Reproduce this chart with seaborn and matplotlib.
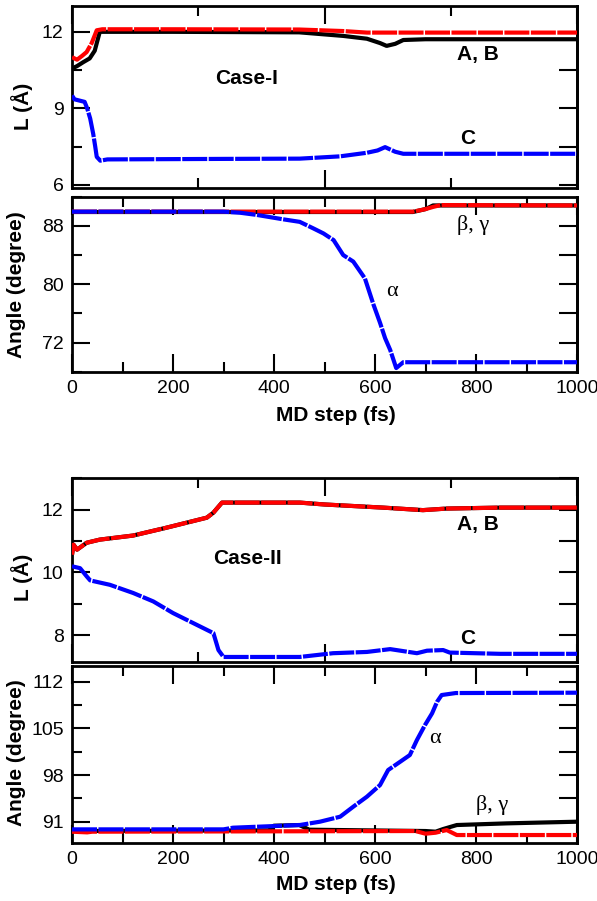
import numpy as np
import pandas as pd
import matplotlib
matplotlib.use("Agg")
import matplotlib.pyplot as plt
import seaborn as sns
from matplotlib.ticker import MultipleLocator, NullFormatter

# ---------------- data ----------------
# Case-I, lattice lengths
c1_red_x = [0, 10, 20, 29, 39, 49, 60, 200, 450, 537, 584, 700, 1000]
c1_red_y = [11.0, 10.9, 11.05, 11.2, 11.55, 12.05, 12.09, 12.09, 12.08, 12.02, 11.96, 11.96, 11.96]
c1_blk_x = [0, 10, 22, 35, 45, 55, 200, 450, 537, 584, 610, 623, 640, 656, 700, 1000]
c1_blk_y = [10.55, 10.65, 10.8, 10.95, 11.25, 11.99, 11.99, 11.97, 11.83, 11.72, 11.55, 11.44, 11.52, 11.67, 11.7, 11.7]
c1_blu_x = [0, 5, 25, 30, 36, 42, 46, 49, 56, 70, 300, 451, 531, 584, 605, 620, 640, 656, 1000]
c1_blu_y = [9.5, 9.35, 9.25, 9.0, 8.6, 8.0, 7.5, 7.1, 6.95, 7.0, 7.02, 7.03, 7.12, 7.26, 7.35, 7.48, 7.3, 7.22, 7.22]

# Case-I, angles
a1_blk_x = [0, 675, 700, 715, 1000]
a1_blk_y = [89.9, 89.9, 90.3, 90.8, 90.8]
a1_red_x = [0, 675, 690, 700, 715, 730, 1000]
a1_red_y = [89.95, 89.95, 90.15, 90.3, 90.6, 90.85, 90.8]
a1_blu_x = [0, 300, 333, 366, 418, 451, 478, 498, 518, 537, 557, 580, 597, 610, 620, 630, 642, 656, 1000]
a1_blu_y = [89.95, 89.95, 89.8, 89.5, 88.9, 88.55, 87.65, 86.96, 86.05, 84.0, 83.1, 80.8, 77.2, 74.7, 72.6, 71.0, 68.5, 69.3, 69.3]

# Case-II, lattice lengths
c2_blk_x = [0, 3, 10, 29, 55, 121, 187, 227, 267, 280, 297, 451, 500, 616, 695, 742, 848, 1000]
c2_blk_y = [10.56, 10.88, 10.72, 10.94, 11.04, 11.17, 11.42, 11.58, 11.74, 11.9, 12.22, 12.22, 12.16, 12.06, 11.98, 12.03, 12.06, 12.06]
c2_red_x = [0, 3, 10, 29, 55, 121, 187, 227, 267, 280, 297, 451, 500, 616, 695, 742, 848, 1000]
c2_red_y = [10.56, 10.88, 10.72, 10.94, 11.04, 11.17, 11.42, 11.58, 11.74, 11.9, 12.22, 12.22, 12.16, 12.06, 11.98, 12.03, 12.06, 12.06]
c2_blu_x = [0, 16, 29, 36, 75, 121, 161, 200, 240, 280, 290, 300, 451, 517, 584, 630, 683, 703, 735, 748, 848, 1000]
c2_blu_y = [10.19, 10.13, 9.87, 9.74, 9.6, 9.34, 9.07, 8.7, 8.38, 8.06, 7.52, 7.3, 7.3, 7.42, 7.46, 7.55, 7.42, 7.5, 7.52, 7.44, 7.4, 7.4]

# Case-II, angles
a2_blk_x = [0, 390, 400, 450, 470, 700, 720, 735, 762, 861, 1000]
a2_blk_y = [89.6, 89.7, 90.4, 90.5, 89.8, 89.6, 89.5, 89.9, 90.5, 90.75, 91.0]
a2_red_x = [0, 30, 40, 680, 700, 720, 742, 762, 1000]
a2_red_y = [89.5, 89.4, 89.5, 89.6, 89.2, 89.35, 89.75, 89.0, 89.0]
a2_blu_x = [0, 300, 319, 451, 491, 531, 557, 584, 610, 626, 650, 669, 683, 699, 713, 723, 732, 760, 1000]
a2_blu_y = [89.85, 89.85, 90.1, 90.5, 91.0, 91.75, 93.25, 94.75, 96.5, 98.75, 100.0, 101.0, 103.25, 105.5, 107.25, 109.0, 110.0, 110.3, 110.35]

# ---------------- style ----------------
sns.set_style("ticks")
plt.rcParams['font.family'] = ['Liberation Sans', 'DejaVu Sans']
plt.rcParams['axes.linewidth'] = 2.0
for k in ['text.color', 'axes.labelcolor', 'xtick.color', 'ytick.color', 'axes.edgecolor']:
    plt.rcParams[k] = 'black'

fig = plt.figure(figsize=(5.97, 9.01), dpi=100)
L, W = 72 / 597, 505 / 597

def frac(top, bottom):
    return [L, 1 - bottom / 901, W, (bottom - top) / 901]

ax1 = fig.add_axes(frac(6, 188.3))
ax2 = fig.add_axes(frac(196.7, 371.7))
ax3 = fig.add_axes(frac(477.5, 662.3))
ax4 = fig.add_axes(frac(665.7, 842.7))

RED, BLUE, BLACK = "#ff0000", "#0000ff", "#000000"
DASH = (0, (6, 0.35))

def draw(ax, series):
    for x, y, color, ls, z in series:
        df = pd.DataFrame({"step": x, "val": y})
        sns.lineplot(data=df, x="step", y="val", ax=ax, color=color, lw=3,
                     estimator=None, sort=False, linestyle=ls, zorder=z,
                     solid_capstyle="butt", dash_capstyle="butt")

draw(ax1, [(c1_blk_x, c1_blk_y, BLACK, "-", 2), (c1_red_x, c1_red_y, RED, DASH, 3),
           (c1_blu_x, c1_blu_y, BLUE, DASH, 3)])
draw(ax2, [(a1_blk_x, a1_blk_y, BLACK, "-", 2), (a1_red_x, a1_red_y, RED, DASH, 3),
           (a1_blu_x, a1_blu_y, BLUE, DASH, 4)])
draw(ax3, [(c2_blk_x, c2_blk_y, BLACK, "-", 2), (c2_red_x, c2_red_y, RED, DASH, 3),
           (c2_blu_x, c2_blu_y, BLUE, DASH, 3)])
draw(ax4, [(a2_blk_x, a2_blk_y, BLACK, "-", 2), (a2_red_x, a2_red_y, RED, DASH, 3),
           (a2_blu_x, a2_blu_y, BLUE, DASH, 4)])

cfg = [
    (ax1, (5.87, 13.0), 3, 1.5, 500, 250, False),
    (ax2, (68.0, 92.0), 8, 4, 200, 100, True),
    (ax3, (7.13, 13.02), 2, 1, 500, 250, False),
    (ax4, (87.85, 114.4), 7, 3.5, 200, 100, True),
]
for ax, ylim, ymaj, ymin, xmaj, xmin, xlab in cfg:
    ax.set_xlim(0, 1000)
    ax.set_ylim(*ylim)
    ax.xaxis.set_major_locator(MultipleLocator(xmaj))
    ax.xaxis.set_minor_locator(MultipleLocator(xmin))
    ax.yaxis.set_major_locator(MultipleLocator(ymaj))
    ax.yaxis.set_minor_locator(MultipleLocator(ymin))
    ax.tick_params(which="both", direction="in", top=True, bottom=True, left=True,
                   right=False, width=1.5, labelsize=14, color="black", labelcolor="black")
    ax.tick_params(which="major", length=13, pad=6)
    ax.tick_params(which="minor", length=7)
    if not xlab:
        ax.xaxis.set_major_formatter(NullFormatter())
    for s in ax.spines.values():
        s.set_visible(True)
        s.set_linewidth(2.0)
        s.set_color("black")
    lo, hi = ylim
    rt = [v for v in np.arange(0, 200, ymin) if lo < v < hi]
    sec = ax.secondary_yaxis("right")
    sec.set_yticks(rt)
    sec.tick_params(direction="in", length=13, width=1.5, labelright=False)
    sec.spines["right"].set_linewidth(2.0)
    ax.set_xlabel("")
    ax.set_ylabel("")

ax2.set_xticks([0, 200, 400, 600, 800, 1000])
ax4.set_xticks([0, 200, 400, 600, 800, 1000])

lab = dict(fontsize=15, fontweight="bold", color="black")
ax1.set_ylabel("L (Å)", **lab)
ax1.yaxis.set_label_coords(-0.077, 0.45)
ax3.set_ylabel("L (Å)", **lab)
ax3.yaxis.set_label_coords(-0.077, 0.46)
ax2.set_ylabel("Angle (degree)", **lab)
ax2.yaxis.set_label_coords(-0.091, 0.5)
ax4.set_ylabel("Angle (degree)", **lab)
ax4.yaxis.set_label_coords(-0.091, 0.507)
ax2.set_xlabel("MD step (fs)", **lab)
ax2.xaxis.set_label_coords(0.523, -0.195)
ax4.set_xlabel("MD step (fs)", **lab)
ax4.xaxis.set_label_coords(0.523, -0.183)

ax1.text(346, 10.17, "Case-I", ha="center", va="center", **lab)
ax1.text(804, 11.1, "A, B", ha="center", va="center", **lab)
ax1.text(784, 7.83, "C", ha="center", va="center", **lab)
ax3.text(347, 10.43, "Case-II", ha="center", va="center", **lab)
ax3.text(804, 11.52, "A, B", ha="center", va="center", **lab)
ax3.text(784, 7.9, "C", ha="center", va="center", **lab)

greek = dict(fontsize=16, family=["Liberation Serif", "DejaVu Serif"], ha="center", va="center", color="black")
ax2.text(794, 88.1, "β, γ", **greek)
ax2.text(633, 79.0, "α", **greek)
ax4.text(831, 93.5, "β, γ", **greek)
ax4.text(719, 103.5, "α", **greek)

fig.savefig("out.png", dpi=100)
